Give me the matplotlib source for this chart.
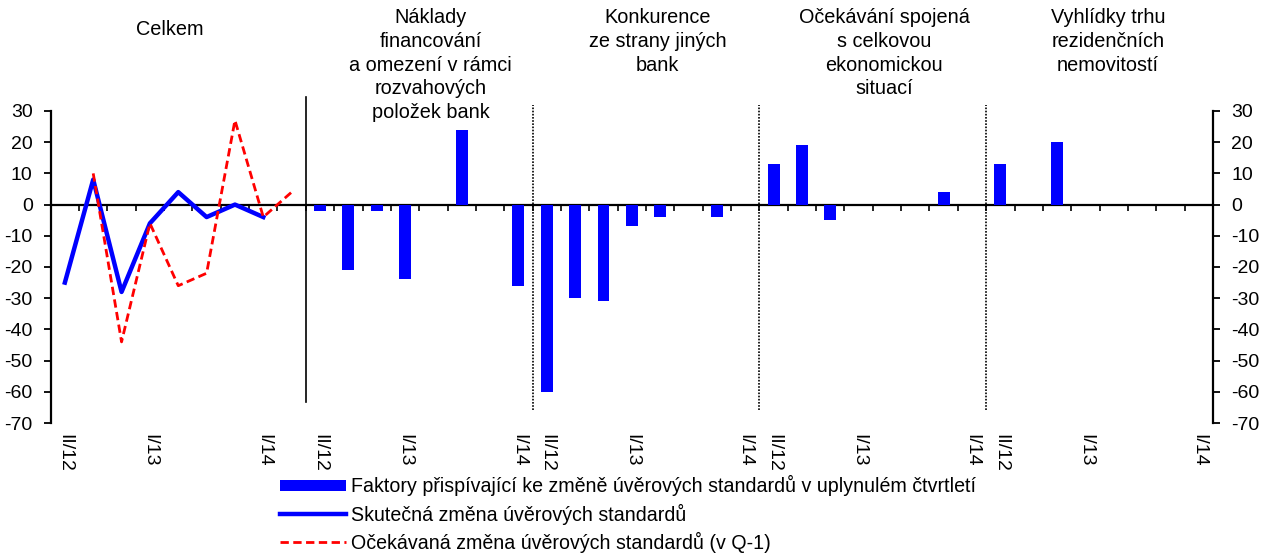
import matplotlib.pyplot as plt
import matplotlib.transforms as mtransforms
import numpy as np

plt.rcParams['font.family'] = ['Liberation Sans', 'DejaVu Sans']
plt.rcParams['font.size'] = 14.3
plt.rcParams['axes.unicode_minus'] = False

# quarters of each panel (first panel has one more quarter for the expectation)
quarters = ['II/12', 'III/12', 'IV/12', 'I/13', 'II/13', 'III/13', 'IV/13', 'I/14', 'II/14']
shown_labels = ['II/12', 'I/13', 'I/14']

panel_titles = [
    'Celkem',
    'Náklady\nfinancování\na omezení v rámci\nrozvahových\npoložek bank',
    'Konkurence\nze strany jiných\nbank',
    'Očekávání spojená\ns celkovou\nekonomickou\nsituací',
    'Vyhlídky trhu\nrezidenčních\nnemovitostí',
]

# panel 1: overall change of credit standards
actual = [-25, 8, -28, -6, 4, -4, 0, -4, np.nan]
expected = [np.nan, 10, -44, -6, -26, -22, 27, -4, 4]

# panels 2-5: contributing factors
naklady = [-2, -21, -2, -24, 0, 24, 0, -26]
konkurence = [-60, -30, -31, -7, -4, 0, -4, 0]
ocekavani = [13, 19, -5, 0, 0, 0, 4, 0]
vyhlidky = [13, 0, 20, 0, 0, 0, 0, 0]

lbl_bar = 'Faktory přispívající ke změně úvěrových standardů v uplynulém čtvrtletí'
lbl_act = 'Skutečná změna úvěrových standardů'
lbl_exp = 'Očekávaná změna úvěrových standardů (v Q-1)'

# build the category positions
n_first = len(quarters)
n_other = len(naklady)
factor_panels = [naklady, konkurence, ocekavani, vyhlidky]
n_total = n_first + n_other * len(factor_panels)

cat_labels = list(quarters)
bar_x, bar_v = [], []
for k, vals in enumerate(factor_panels):
    start = n_first + k * n_other
    cat_labels += quarters[:n_other]
    for j, v in enumerate(vals):
        bar_x.append(start + j)
        bar_v.append(v)

fig = plt.figure(figsize=(12.61, 5.56), dpi=100)
ax = fig.add_axes([0.0402, 0.2392, 0.9217, 0.5612])

blue = '#0000FF'
red = '#FF0000'

bars = ax.bar(bar_x, bar_v, width=0.42, color=blue, linewidth=0, label=lbl_bar, zorder=3)
l1, = ax.plot(range(n_first), actual, color=blue, lw=3.2, label=lbl_act, zorder=4)
l2, = ax.plot(range(n_first), expected, color=red, lw=2, ls=(0, (3, 1.6)), label=lbl_exp, zorder=5)

ax.set_xlim(-0.5, n_total - 0.5)
ax.set_ylim(-70, 30)
ax.set_yticks(range(-70, 31, 10))

for s in ['left', 'right', 'bottom']:
    ax.spines[s].set_linewidth(1.6)
ax.spines['top'].set_visible(False)
ax.spines['bottom'].set_position(('data', 0))

ax.tick_params(axis='y', left=True, right=True, labelleft=True, labelright=True,
               direction='out', length=5, width=1.3, pad=8, labelsize=14)
ax.set_xticks(np.arange(-0.5, n_total, 1.0))
ax.set_xticklabels([])
ax.tick_params(axis='x', direction='out', length=4, width=1.2)

# category labels at the bottom of the plot
lab_pos = [i for i, q in enumerate(cat_labels) if q in shown_labels]
lab_txt = [cat_labels[i] for i in lab_pos]
sec = ax.secondary_xaxis('bottom')
sec.spines['bottom'].set_visible(False)
sec.set_xticks(lab_pos, labels=lab_txt, rotation=-90)
sec.tick_params(length=0, pad=8, labelsize=14)

# panel separators
ax.axvline(n_first - 0.5, ymin=0.067, ymax=1.045, color='black', lw=1.2, clip_on=False)
for k in range(1, len(factor_panels)):
    xs = n_first + k * n_other - 0.5
    ax.axvline(xs, ymin=0.042, ymax=1.019, color='black', lw=1.2, ls=(0, (1, 0.9)), clip_on=False)

# panel titles
trans = mtransforms.blended_transform_factory(ax.transData, ax.transAxes)
title_x = [3.7, 12.9, 20.9, 28.9, 36.8]
title_y = [1.29, 1.33, 1.33, 1.33, 1.33]
for t, tx, ty in zip(panel_titles, title_x, title_y):
    ax.text(tx, ty, t, transform=trans, ha='center', va='top', linespacing=1.32)

fig.legend([bars, l1, l2], [lbl_bar, lbl_act, lbl_exp], loc='upper left',
           bbox_to_anchor=(0.222, 0.145), frameon=False, handlelength=3.35,
           handletextpad=0.3, labelspacing=0.36, borderaxespad=0, borderpad=0,
           handleheight=0.5, fontsize=14.1)

fig.savefig('out.png', dpi=100)
